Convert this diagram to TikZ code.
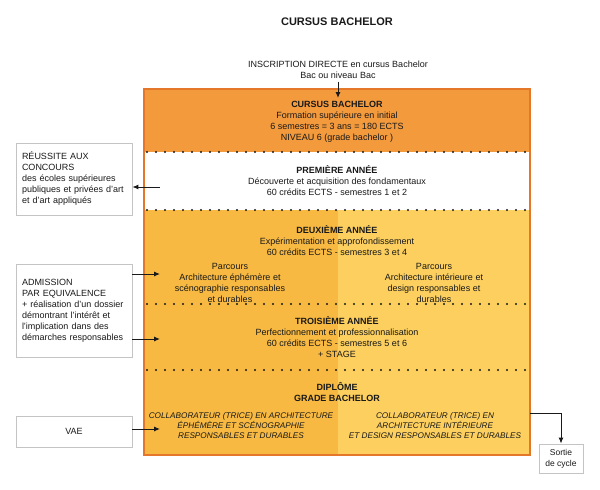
\documentclass[tikz,border=0pt]{standalone}
\usepackage{fontspec}
\setmainfont{Liberation Sans}
\usepackage{xcolor}
\usetikzlibrary{arrows.meta, positioning}

\definecolor{hdrorange}{HTML}{F39A3D}
\definecolor{frameline}{HTML}{E5772B}
\definecolor{leftyellow}{HTML}{F7B941}
\definecolor{rightyellow}{HTML}{FCCF5F}
\definecolor{boxline}{HTML}{C4C4C4}

\begin{document}
\begin{tikzpicture}[x=1pt, y=-1pt,
  txt/.style={align=center, inner sep=0pt, text=black!90, font=\fontsize{9}{11}\selectfont},
  itxt/.style={align=center, inner sep=0pt, text=black!90, font=\fontsize{8.2}{10}\selectfont\itshape},
  sbox/.style={rectangle, draw=boxline, fill=white, line width=0.8pt, text=black!90,
               font=\fontsize{9}{11}\selectfont, inner xsep=6pt},
  dots/.style={draw=black!90, line width=2.4pt, line cap=round, dash pattern=on 0pt off 9pt},
  arr/.style={-{Latex[length=6pt,width=5pt]}, line width=1pt, black!90}
]
\useasboundingbox (0,0) rectangle (600,490);
%% Frame and bands
\fill[hdrorange] (144,89) rectangle (530,152);
\fill[white] (144,152) rectangle (530,210);
\fill[leftyellow] (144,210) rectangle (338,455);
\fill[rightyellow] (338,210) rectangle (530,455);
\draw[frameline, line width=1.5pt] (144,89) rectangle (530,455);
\foreach \yy in {152,210,304,370}
  \draw[dots] (147,\yy) -- (528,\yy);
%% Titles
\node[txt, font=\fontsize{11}{13}\selectfont\bfseries] (title) at (337,22) {CURSUS BACHELOR};
\node[txt] (inscr) at (338,69.5) {INSCRIPTION DIRECTE en cursus Bachelor\\Bac ou niveau Bac};
\coordinate (inscrtip) at (338,98);
\draw[arr] ([yshift=-3pt]inscr.south) -- (inscrtip);
%% Band texts
\node[txt] (cursus) at (337,121.5) {\textbf{CURSUS BACHELOR}\\Formation supérieure en initial\\6 semestres = 3 ans = 180 ECTS\\NIVEAU 6 (grade bachelor )};
\node[txt] (annee1) at (337,181) {\textbf{PREMIÈRE ANNÉE}\\Découverte et acquisition des fondamentaux\\60 crédits ECTS - semestres 1 et 2};
\node[txt] (annee2) at (337,240.5) {\textbf{DEUXIÈME ANNÉE}\\Expérimentation et approfondissement\\60 crédits ECTS - semestres 3 et 4};
\node[txt] (parcoursA) at (230,283) {Parcours\\Architecture éphémère et\\scénographie responsables\\et durables};
\node[txt] (parcoursB) at (434,283) {Parcours\\Architecture intérieure et\\design responsables et\\durables};
\node[txt] (annee3) at (337,337.5) {\textbf{TROISIÈME ANNÉE}\\Perfectionnement et professionnalisation\\60 crédits ECTS - semestres 5 et 6\\+ STAGE};
\node[txt] (diplome) at (337,392.5) {\textbf{DIPLÔME}\\\textbf{GRADE BACHELOR}};
\node[itxt] (metierA) at (241,426) {COLLABORATEUR (TRICE) EN ARCHITECTURE\\ÉPHÉMÈRE ET SCÉNOGRAPHIE\\RESPONSABLES ET DURABLES};
\node[itxt] (metierB) at (435,426) {COLLABORATEUR (TRICE) EN\\ARCHITECTURE INTÉRIEURE\\ET DESIGN RESPONSABLES ET DURABLES};
%% Side boxes
\node[sbox, minimum width=116pt, minimum height=72pt, text width=104pt, align=left] (reussite) at (74,179)
  {RÉUSSITE AUX\\CONCOURS\\des écoles supérieures\\publiques et privées d'art\\et d'art appliqués};
\node[sbox, minimum width=116pt, minimum height=93pt, text width=104pt, align=left] (admission) at (74,310.5)
  {ADMISSION\\PAR EQUIVALENCE\\+ réalisation d'un dossier\\démontrant l'intérêt et\\l'implication dans des\\démarches responsables};
\node[sbox, minimum width=116pt, minimum height=31pt] (vae) at (74,431.5) {VAE};
\node[sbox, minimum width=44pt, minimum height=29pt, inner xsep=2pt, align=center,
      font=\fontsize{8.5}{11}\selectfont] (sortie) at (561,458.5) {Sortie\\de cycle};
%% Connectors
\coordinate (reussiteIn) at (160,187);
\coordinate (admA) at (160,274);
\coordinate (admB) at (160,339);
\coordinate (vaeIn) at (160,429);
\coordinate (exitPt) at (530,413);
\draw[arr] (reussiteIn) -- (reussiteIn -| reussite.east);
\draw[arr] (admA -| admission.east) -- (admA);
\draw[arr] (admB -| admission.east) -- (admB);
\draw[arr] (vaeIn -| vae.east) -- (vaeIn);
\draw[arr] (exitPt) -| (sortie.north);
\end{tikzpicture}
\end{document}
